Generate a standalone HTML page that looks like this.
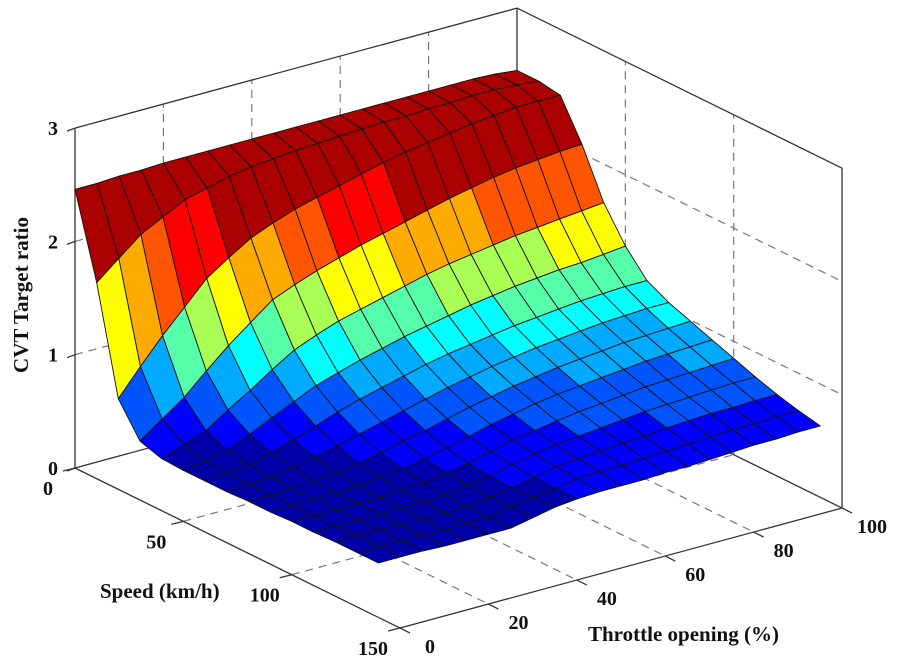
<!DOCTYPE html>
<html><head><meta charset="utf-8">
<style>
html,body{margin:0;padding:0;background:#fff;}
svg{display:block;}
text{font-family:"Liberation Serif",serif;font-weight:bold;fill:#111;}
</style></head>
<body>
<svg id="chart" width="899" height="660" viewBox="0 0 899 660">
<g id="grid"></g>
<g id="box"></g>
<g id="surf"></g>
<g id="ticks"></g>
<text x="0" y="0" font-size="21" text-anchor="middle" transform="translate(28,295) rotate(-90)">CVT Target ratio</text>
<text x="100" y="598" font-size="21">Speed (km/h)</text>
<text x="588" y="641" font-size="21">Throttle opening (%)</text>
</svg>
<script>
const speeds = [0,10,20,30,40,50,60,70,80,90,100,110,120,130,140];
const throttles = [0,5,10,15,20,25,30,35,40,45,50,55,60,65,70,75,80,85,90,95,100];
const ratioT0   = [2.46,1.73,0.80,0.52,0.46,0.45,0.45,0.45,0.46,0.46,0.47,0.47,0.48,0.48,0.48];
const ratioT5   = [2.46,1.89,1.03,0.66,0.53,0.48,0.47,0.46,0.46,0.46,0.47,0.47,0.48,0.48,0.48];
const ratioT10  = [2.47,2.05,1.25,0.80,0.60,0.52,0.49,0.47,0.47,0.47,0.47,0.47,0.48,0.48,0.48];
const ratioT15  = [2.47,2.15,1.45,0.98,0.73,0.61,0.54,0.50,0.48,0.47,0.47,0.47,0.47,0.47,0.47];
const ratioT20  = [2.48,2.25,1.65,1.15,0.85,0.70,0.60,0.54,0.50,0.48,0.47,0.47,0.47,0.47,0.47];
const ratioT25  = [2.48,2.30,1.78,1.30,0.98,0.79,0.67,0.59,0.53,0.50,0.48,0.47,0.47,0.47,0.47];
const ratioT30  = [2.48,2.35,1.90,1.45,1.10,0.88,0.74,0.64,0.57,0.52,0.49,0.48,0.47,0.47,0.47];
const ratioT35  = [2.48,2.38,1.98,1.53,1.18,0.94,0.80,0.69,0.62,0.56,0.53,0.51,0.50,0.51,0.51];
const ratioT40  = [2.48,2.40,2.05,1.60,1.25,1.00,0.85,0.74,0.66,0.60,0.56,0.54,0.53,0.54,0.55];
const ratioT45  = [2.48,2.42,2.10,1.66,1.30,1.05,0.90,0.79,0.71,0.65,0.61,0.59,0.57,0.57,0.57];
const ratioT50  = [2.48,2.43,2.15,1.72,1.35,1.10,0.95,0.84,0.76,0.70,0.66,0.63,0.61,0.60,0.58];
const ratioT55  = [2.48,2.44,2.20,1.77,1.40,1.14,0.99,0.88,0.80,0.74,0.69,0.66,0.63,0.61,0.58];
const ratioT60  = [2.48,2.45,2.25,1.82,1.45,1.18,1.02,0.92,0.84,0.78,0.72,0.68,0.64,0.61,0.58];
const ratioT65  = [2.48,2.46,2.29,1.87,1.49,1.22,1.05,0.95,0.87,0.81,0.75,0.70,0.66,0.62,0.59];
const ratioT70  = [2.48,2.46,2.32,1.92,1.52,1.25,1.08,0.98,0.90,0.83,0.77,0.72,0.67,0.63,0.59];
const ratioT75  = [2.48,2.47,2.35,1.96,1.55,1.28,1.10,1.00,0.92,0.85,0.79,0.74,0.69,0.64,0.60];
const ratioT80  = [2.48,2.47,2.38,2.00,1.58,1.30,1.12,1.02,0.94,0.87,0.81,0.75,0.70,0.65,0.61];
const ratioT85  = [2.48,2.48,2.40,2.03,1.60,1.32,1.14,1.04,0.96,0.89,0.82,0.76,0.71,0.66,0.62];
const ratioT90  = [2.48,2.48,2.42,2.05,1.62,1.33,1.15,1.05,0.97,0.90,0.83,0.77,0.71,0.66,0.62];
const ratioT95  = [2.47,2.47,2.42,2.07,1.64,1.35,1.16,1.06,0.98,0.91,0.84,0.78,0.72,0.67,0.63];
const ratioT100 = [2.45,2.45,2.42,2.08,1.66,1.37,1.16,1.06,0.99,0.92,0.85,0.78,0.72,0.67,0.63];
const ratioRows = [ratioT0,ratioT5,ratioT10,ratioT15,ratioT20,ratioT25,ratioT30,ratioT35,ratioT40,ratioT45,ratioT50,ratioT55,ratioT60,ratioT65,ratioT70,ratioT75,ratioT80,ratioT85,ratioT90,ratioT95,ratioT100];
const zTicks = [0,1,2,3];
const speedTicks = [0,50,100,150];
const throttleTicks = [0,20,40,60,80,100];

const NS = 'http://www.w3.org/2000/svg';
function P(s,t,z){ return [75 + 2.167*s + 4.42*t, 468 + 1.067*s - 1.2*t - 113.3*z]; }
function mk(tag, parent){ const e=document.createElementNS(NS,tag); parent.appendChild(e); return e; }
function line(parent,a,b,dash,name){
  const l=mk('line',parent);
  l.setAttribute('x1',a[0]);l.setAttribute('y1',a[1]);l.setAttribute('x2',b[0]);l.setAttribute('y2',b[1]);
  l.setAttribute('stroke',dash?'#777':'#333');l.setAttribute('stroke-width',dash?1.2:1.3);
  if(dash) l.setAttribute('stroke-dasharray','8,6');
  
  
}
const G=document.getElementById('grid'), B=document.getElementById('box'), S=document.getElementById('surf'), T=document.getElementById('ticks');
[20,40,60,80].forEach(t=>line(G,P(0,t,0),P(0,t,3),true,'grid-line'));
[1,2].forEach(z=>line(G,P(0,0,z),P(0,100,z),true,'grid-line'));
[50,100].forEach(s=>line(G,P(s,100,0),P(s,100,3),true,'grid-line'));
[1,2].forEach(z=>line(G,P(0,100,z),P(150,100,z),true,'grid-line'));
[20,40,60,80].forEach(t=>line(G,P(0,t,0),P(150,t,0),true,'grid-line'));
[50,100].forEach(s=>line(G,P(s,0,0),P(s,100,0),true,'grid-line'));
line(B,P(0,0,0),P(0,0,3),false,'z-axis-line');
line(B,P(0,0,3),P(0,100,3),false,'box-edge');
line(B,P(0,100,3),P(150,100,3),false,'box-edge');
line(B,P(150,100,3),P(150,100,0),false,'box-edge');
line(B,P(0,0,0),P(150,0,0),false,'speed-axis-line');
line(B,P(150,0,0),P(150,100,0),false,'throttle-axis-line');
line(B,P(0,0,0),P(0,100,0),false,'box-edge');
line(B,P(0,100,0),P(150,100,0),false,'box-edge');
line(B,P(0,100,0),P(0,100,3),false,'box-edge');

function jet(v){
  const cmin=0.4,cmax=2.3,n=12;
  let x=(v-cmin)/(cmax-cmin); x=Math.max(0,Math.min(0.9999,x));
  x=(Math.floor(x*n)+0.5)/n;
  const r=Math.max(0,Math.min(1,1.5-Math.abs(4*x-3)));
  const g=Math.max(0,Math.min(1,1.5-Math.abs(4*x-2)));
  const b=Math.max(0,Math.min(1,1.5-Math.abs(4*x-1)));
  return 'rgb('+Math.round(r*255)+','+Math.round(g*255)+','+Math.round(b*255)+')';
}
const cells=[];
for(let ti=0;ti<throttles.length-1;ti++){
  for(let si=0;si<speeds.length-1;si++){
    const s0=speeds[si],s1=speeds[si+1],t0=throttles[ti],t1=throttles[ti+1];
    const z00=ratioRows[ti][si],z01=ratioRows[ti][si+1],z11=ratioRows[ti+1][si+1],z10=ratioRows[ti+1][si];
    const depth=(s0+s1)/2/140+(1-(t0+t1)/2/100);
    const cval=0.7*(z00+z10)/2+0.3*(z01+z11)/2;
    cells.push({depth,pts:[P(s0,t0,z00),P(s1,t0,z01),P(s1,t1,z11),P(s0,t1,z10)],c:jet(cval)});
  }
}
cells.sort((a,b)=>a.depth-b.depth);
cells.forEach(c=>{
  const p=mk('polygon',S);
  p.setAttribute('points',c.pts.map(q=>q[0].toFixed(1)+','+q[1].toFixed(1)).join(' '));
  p.setAttribute('fill',c.c);p.setAttribute('stroke','#111');p.setAttribute('stroke-width','0.9');
  p.setAttribute('stroke-linejoin','round');
  
  
});
function label(x,y,txt,name){
  const e=mk('text',T); e.setAttribute('x',x); e.setAttribute('y',y); e.setAttribute('font-size','20');
  e.setAttribute('text-anchor','middle'); e.textContent=txt;
  
  
}
zTicks.forEach(z=>{const q=P(0,0,z); line(T,q,[q[0]-8,q[1]+3],false,'z-tick'); label(q[0]-22,q[1]+7,String(z),'z-tick-label');});
speedTicks.forEach(s=>{const q=P(s,0,0); line(T,q,[q[0]-12,q[1]+3],false,'speed-tick'); label(q[0]-27,q[1]+27,String(s),'speed-tick-label');});
throttleTicks.forEach(t=>{const q=P(150,t,0); line(T,q,[q[0]+10,q[1]+5],false,'throttle-tick'); label(q[0]+30,q[1]+25,String(t),'throttle-tick-label');});
</script>
</body></html>
